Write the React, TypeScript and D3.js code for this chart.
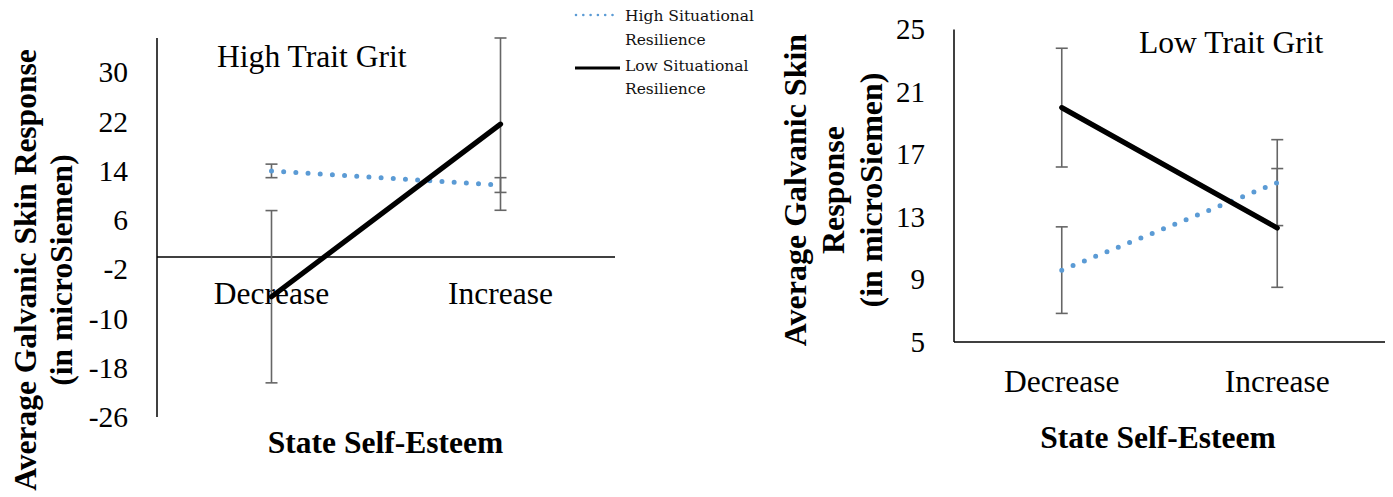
import React from "react";
import * as d3 from "d3";

const categories = ["Decrease", "Increase"];

// Left panel: High Trait Grit
const leftHighMeans = [14.0, 11.7];
const leftHighErr = [1.1, 1.2];
const leftLowMeans = [-6.45, 21.6];
const leftLowErr = [14.0, 14.0];
const leftTicks = [30, 22, 14, 6, -2, -10, -18, -26];
const leftDomain = [-26, 35.6];

// Right panel: Low Trait Grit
const rightHighMeans = [9.6, 15.2];
const rightHighErr = [2.77, 2.75];
const rightLowMeans = [20.0, 12.3];
const rightLowErr = [3.8, 3.8];
const rightTicks = [25, 21, 17, 13, 9, 5];
const rightDomain = [5, 25];

const seriesNames = ["High Situational Resilience", "Low Situational Resilience"];

const SERIF = "'Liberation Serif', 'Times New Roman', serif";
const BLUE = "#5B9BD5";
const ERR = "#666666";

type PanelProps = {
  x0: number;
  x1: number;
  yTop: number;
  yBottom: number;
  domain: number[];
  ticks: number[];
  tickX: number;
  tickSize: number;
  baseValue: number;
  highMeans: number[];
  highErr: number[];
  lowMeans: number[];
  lowErr: number[];
  title: string;
  titleX: number;
  titleY: number;
  catY: number;
  xTitleX: number;
  xTitleY: number;
  yTitleLines: string[];
  yTitleXs: number[];
  yTitleY: number;
  yTitleSize: number;
};

function Panel(p: PanelProps) {
  const x = d3.scalePoint<string>().domain(categories).range([p.x0, p.x1]).padding(0.5);
  const y = d3.scaleLinear().domain(p.domain).range([p.yBottom, p.yTop]);
  const line = d3
    .line<number>()
    .x((_, i) => x(categories[i]) as number)
    .y((d) => y(d));
  const errBars = (means: number[], errs: number[], key: string) =>
    means.map((m, i) => {
      const cx = x(categories[i]) as number;
      const t = y(m + errs[i]);
      const b = y(m - errs[i]);
      return (
        <g key={key + i} stroke={ERR} strokeWidth={1.6} fill="none">
          <line x1={cx} x2={cx} y1={t} y2={b} />
          <line x1={cx - 6} x2={cx + 6} y1={t} y2={t} />
          <line x1={cx - 6} x2={cx + 6} y1={b} y2={b} />
        </g>
      );
    });
  const baseY = y(p.baseValue);
  return (
    <g>
      <line x1={p.x0} x2={p.x0} y1={y(p.domain[1])} y2={y(p.domain[0])} stroke="#000" strokeWidth={1.5} />
      <line x1={p.x0} x2={p.x1} y1={baseY} y2={baseY} stroke="#000" strokeWidth={1.5} />
      {p.ticks.map((t) => (
        <text
          key={t}
          x={p.tickX}
          y={y(t)}
          dy="0.34em"
          textAnchor="end"
          fontFamily={SERIF}
          fontSize={p.tickSize}
          fill="#000"
        >
          {t}
        </text>
      ))}
      {categories.map((c) => (
        <text
          key={c}
          x={x(c) as number}
          y={p.catY}
          textAnchor="middle"
          fontFamily={SERIF}
          fontSize={31.5}
          fill="#000"
        >
          {c}
        </text>
      ))}
      {errBars(p.highMeans, p.highErr, "h")}
      {errBars(p.lowMeans, p.lowErr, "l")}
      <path
        d={line(p.highMeans) as string}
        fill="none"
        stroke={BLUE}
        strokeWidth={5}
        strokeLinecap="round"
        strokeDasharray="0 12.2"
      />
      <path d={line(p.lowMeans) as string} fill="none" stroke="#000" strokeWidth={5.2} strokeLinecap="round" />
      <text x={p.titleX} y={p.titleY} fontFamily={SERIF} fontSize={31.6} fill="#000">
        {p.title}
      </text>
      <text
        x={p.xTitleX}
        y={p.xTitleY}
        textAnchor="middle"
        fontFamily={SERIF}
        fontWeight="bold"
        fontSize={31.5}
        fill="#000"
      >
        State Self-Esteem
      </text>
      {p.yTitleLines.map((l, i) => (
        <text
          key={l}
          transform={`translate(${p.yTitleXs[i]},${p.yTitleY}) rotate(-90)`}
          textAnchor="middle"
          fontFamily={SERIF}
          fontWeight="bold"
          fontSize={p.yTitleSize}
          fill="#000"
        >
          {l}
        </text>
      ))}
    </g>
  );
}

export default function App() {
  return (
    <svg
      width={1393}
      height={497}
      style={{ position: "fixed", left: 0, top: 0, background: "#fff" }}
    >
      <rect width={1393} height={497} fill="#fff" />
      <Panel
        x0={157}
        x1={615}
        yTop={38}
        yBottom={417}
        domain={leftDomain}
        ticks={leftTicks}
        tickX={128}
        tickSize={29.5}
        baseValue={0}
        highMeans={leftHighMeans}
        highErr={leftHighErr}
        lowMeans={leftLowMeans}
        lowErr={leftLowErr}
        title="High Trait Grit"
        titleX={217}
        titleY={67}
        catY={304}
        xTitleX={385.5}
        xTitleY={453}
        yTitleLines={["Average Galvanic Skin Response", "(in microSiemen)"]}
        yTitleXs={[35.5, 71.5]}
        yTitleY={270}
        yTitleSize={31.5}
      />
      <Panel
        x0={954}
        x1={1385}
        yTop={29.5}
        yBottom={342}
        domain={rightDomain}
        ticks={rightTicks}
        tickX={925}
        tickSize={29}
        baseValue={5}
        highMeans={rightHighMeans}
        highErr={rightHighErr}
        lowMeans={rightLowMeans}
        lowErr={rightLowErr}
        title="Low Trait Grit"
        titleX={1139}
        titleY={53}
        catY={391.5}
        xTitleX={1158}
        xTitleY={448}
        yTitleLines={["Average Galvanic Skin", "Response", "(in microSiemen)"]}
        yTitleXs={[806, 844, 882]}
        yTitleY={190}
        yTitleSize={32}
      />
      <g fontFamily="'DejaVu Serif', serif" fontSize={15.5} fill="#111">
        <line x1={576} x2={613} y1={15} y2={15} stroke={BLUE} strokeWidth={2.6} strokeLinecap="round" strokeDasharray="0 7.3" />
        <text x={625} y={21}>
          {seriesNames[0].split(" ").slice(0, 2).join(" ")}
        </text>
        <text x={625} y={45}>
          {seriesNames[0].split(" ").slice(2).join(" ")}
        </text>
        <line x1={575} x2={620} y1={68} y2={68} stroke="#000" strokeWidth={3} />
        <text x={625} y={71}>
          {seriesNames[1].split(" ").slice(0, 2).join(" ")}
        </text>
        <text x={625} y={94}>
          {seriesNames[1].split(" ").slice(2).join(" ")}
        </text>
      </g>
    </svg>
  );
}
